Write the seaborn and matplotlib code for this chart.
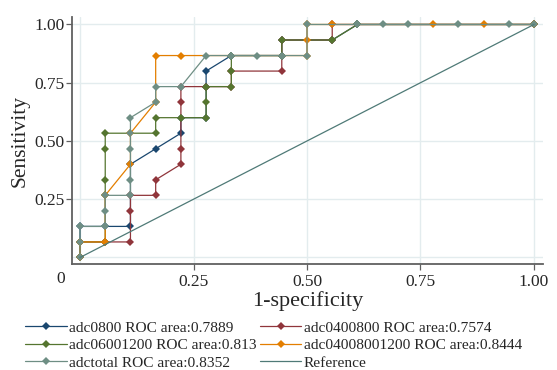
import numpy as np
import pandas as pd
import matplotlib.pyplot as plt
import seaborn as sns

# ROC points read off the chart as counts: false positives out of 18 controls,
# true positives out of 15 cases, one pair per cutoff
n_neg = 18
n_pos = 15

adc0800_fp = [0, 0, 1, 2, 2, 3, 4, 4, 5, 5, 5, 6, 8, 8, 10, 11, 18]
adc0800_tp = [0, 2, 2, 2, 6, 7, 8, 9, 9, 11, 12, 13, 13, 14, 14, 15, 15]

adc0400800_fp = [0, 0, 1, 2, 2, 2, 3, 3, 4, 4, 4, 4, 5, 6, 6, 8, 8, 10, 10, 18]
adc0400800_tp = [0, 1, 1, 1, 3, 4, 4, 5, 6, 7, 10, 11, 11, 11, 12, 12, 14, 14, 15, 15]

adc06001200_fp = [0, 0, 1, 1, 1, 1, 1, 3, 3, 4, 5, 5, 5, 6, 6, 6, 8, 8, 10, 11, 18]
adc06001200_tp = [0, 1, 1, 4, 5, 7, 8, 8, 9, 9, 9, 10, 11, 11, 12, 13, 13, 14, 14, 15, 15]

adc04008001200_fp = [0, 0, 1, 1, 2, 2, 3, 3, 4, 9, 9, 9, 10, 14, 16, 18]
adc04008001200_tp = [0, 1, 1, 4, 6, 8, 10, 13, 13, 13, 14, 15, 15, 15, 15, 15]

adctotal_fp = [0, 0, 0, 1, 1, 1, 2, 2, 2, 2, 2, 3, 3, 4, 5, 6, 7, 8, 9, 9, 11, 12, 13, 15, 17, 18]
adctotal_tp = [0, 1, 2, 2, 3, 4, 4, 5, 7, 8, 9, 10, 11, 11, 13, 13, 13, 13, 13, 15, 15, 15, 15, 15, 15, 15]

labels = ["adc0800 ROC area:0.7889", "adc0400800 ROC area:0.7574",
          "adc06001200 ROC area:0.813", "adc04008001200 ROC area:0.8444",
          "adctotal ROC area:0.8352"]
colors = ["#1a476f", "#90353b", "#55752f", "#e37e00", "#6e8e84"]
ref_color = "#4f7a77"

curves = [(adc0800_fp, adc0800_tp), (adc0400800_fp, adc0400800_tp),
          (adc06001200_fp, adc06001200_tp), (adc04008001200_fp, adc04008001200_tp),
          (adctotal_fp, adctotal_tp)]

sns.set_theme(style="white")
plt.rcParams["font.family"] = ["Liberation Serif", "DejaVu Serif"]

fig = plt.figure(figsize=(5.57, 3.70), dpi=100)
ax = fig.add_axes([0.1293, 0.2865, 0.8457, 0.6675])

for (fp, tp), lab, col in zip(curves, labels, colors):
    df = pd.DataFrame({"fpr": np.array(fp) / n_neg, "tpr": np.array(tp) / n_pos})
    sns.lineplot(data=df, x="fpr", y="tpr", sort=False, estimator=None, ax=ax,
                 color=col, lw=0.9, marker="D", markersize=3.8,
                 markeredgewidth=0, label=lab)

ref = pd.DataFrame({"fpr": [0, 1], "tpr": [0, 1]})
sns.lineplot(data=ref, x="fpr", y="tpr", sort=False, estimator=None, ax=ax,
             color=ref_color, lw=0.9, label="Reference")

h, l = ax.get_legend_handles_labels()
ax.get_legend().remove()
order = [0, 2, 4, 1, 3, 5]
fig.legend([h[i] for i in order], [l[i] for i in order], loc="upper left",
           bbox_to_anchor=(0.045, 0.133), ncol=2, frameon=False, fontsize=11.1,
           handlelength=2.7, handletextpad=0.15, columnspacing=0.2,
           labelspacing=0.25, borderpad=0, borderaxespad=0)

ax.set_xlim(-0.0176, 1.02)
ax.set_ylim(-0.028, 1.032)
ticks = [0.25, 0.5, 0.75, 1.0]
ax.set_xticks(ticks)
ax.set_xticklabels(["0.25", "0.50", "0.75", "1.00"])
ax.set_yticks(ticks)
ax.set_yticklabels(["0.25", "0.50", "0.75", "1.00"])
for v in [0, 0.25, 0.5, 0.75, 1.0]:
    ax.axvline(v, color="#e3ecee", lw=1.0, zorder=0)
    ax.axhline(v, color="#e3ecee", lw=1.0, zorder=0)
ax.text(-0.042, -0.092, "0", ha="center", va="center", fontsize=12.5, clip_on=False)

sns.despine(ax=ax)
for s in ["left", "bottom"]:
    ax.spines[s].set_color("#606060")
    ax.spines[s].set_linewidth(1.3)
ax.tick_params(axis="both", which="both", direction="out", length=4, width=0.9,
               color="#606060", labelsize=12.5, bottom=True, left=True)
ax.tick_params(axis="x", pad=3)
ax.tick_params(axis="y", pad=1.5)
ax.set_xlabel("1-specificity", fontsize=16, labelpad=1)
ax.set_ylabel("Sensitivity", fontsize=15.5, labelpad=3)

fig.savefig("out.png", dpi=100)
